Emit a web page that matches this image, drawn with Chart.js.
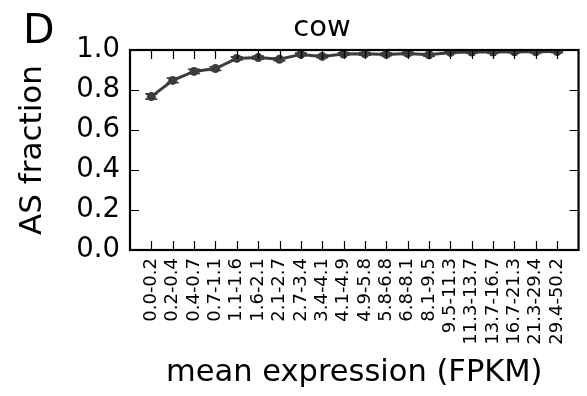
<!DOCTYPE html>
<html>
<head>
<meta charset="utf-8">
<script src="https://cdn.jsdelivr.net/npm/chart.js@4.4.1/dist/chart.umd.min.js"></script>
<style>
  html, body { margin: 0; padding: 0; background: #fff; }
</style>
</head>
<body>
<canvas id="asChart" width="587" height="396"></canvas>
<script>
// expression bins (FPKM) and the alternative-splicing fraction in each
const bins = ["0.0-0.2", "0.2-0.4", "0.4-0.7", "0.7-1.1", "1.1-1.6", "1.6-2.1", "2.1-2.7",
              "2.7-3.4", "3.4-4.1", "4.1-4.9", "4.9-5.8", "5.8-6.8", "6.8-8.1", "8.1-9.5",
              "9.5-11.3", "11.3-13.7", "13.7-16.7", "16.7-21.3", "21.3-29.4", "29.4-50.2"];
const asFraction = [0.767, 0.848, 0.893, 0.907, 0.958, 0.962, 0.954, 0.978, 0.968, 0.980,
                    0.981, 0.978, 0.983, 0.976, 0.988, 0.990, 0.990, 0.991, 0.991, 0.992];
const asError = [0.013, 0.011, 0.010, 0.009, 0.007, 0.007, 0.007, 0.006, 0.006, 0.006,
                 0.006, 0.006, 0.006, 0.006, 0.005, 0.005, 0.005, 0.005, 0.005, 0.005];
const yTicks = [0.0, 0.2, 0.4, 0.6, 0.8, 1.0];

const FONT = "DejaVu Sans";
const INK = "#3c3c3c";

// error bars with caps, clipped to the plot box
const errorBars = {
  id: "errorBars",
  afterDatasetsDraw(chart) {
    const {ctx, chartArea: a, scales: {x, y}} = chart;
    ctx.save();
    ctx.beginPath();
    ctx.rect(a.left, a.top, a.width, a.height);
    ctx.clip();
    ctx.strokeStyle = INK;
    ctx.lineWidth = 1.8;
    ctx.beginPath();
    asFraction.forEach((v, i) => {
      const px = x.getPixelForValue(i);
      const lo = y.getPixelForValue(v - asError[i]);
      const hi = y.getPixelForValue(v + asError[i]);
      ctx.moveTo(px, lo); ctx.lineTo(px, hi);
      ctx.moveTo(px - 6, lo); ctx.lineTo(px + 6, lo);
      ctx.moveTo(px - 6, hi); ctx.lineTo(px + 6, hi);
    });
    ctx.stroke();
    ctx.restore();
  }
};

// box frame with inward ticks on all four sides, plus panel letter and title
const frame = {
  id: "frame",
  afterDraw(chart) {
    const {ctx, chartArea: a, scales: {x, y}} = chart;
    const len = 9;
    ctx.save();
    ctx.strokeStyle = "#000";
    ctx.lineWidth = 1.2;
    ctx.beginPath();
    x.ticks.forEach(t => {
      const px = Math.round(x.getPixelForValue(t.value)) + 0.5;
      ctx.moveTo(px, a.bottom); ctx.lineTo(px, a.bottom - len);
      ctx.moveTo(px, a.top); ctx.lineTo(px, a.top + len);
    });
    y.ticks.forEach(t => {
      const py = Math.round(y.getPixelForValue(t.value)) + 0.5;
      ctx.moveTo(a.left, py); ctx.lineTo(a.left + len, py);
      ctx.moveTo(a.right, py); ctx.lineTo(a.right - len, py);
    });
    ctx.stroke();
    ctx.lineWidth = 2.2;
    ctx.strokeRect(a.left, a.top, a.right - a.left, a.bottom - a.top);

    ctx.fillStyle = "#000";
    ctx.textBaseline = "alphabetic";
    ctx.font = "41px '" + FONT + "'";
    ctx.textAlign = "left";
    ctx.fillText("D", 23, 43);
    ctx.font = "29px '" + FONT + "'";
    ctx.textAlign = "center";
    ctx.fillText("cow", 322, 36);
    ctx.restore();
  }
};

new Chart(document.getElementById("asChart"), {
  type: "line",
  data: {
    datasets: [{
      data: asFraction.map((v, i) => ({x: i, y: v})),
      borderColor: INK,
      backgroundColor: INK,
      borderWidth: 3,
      pointRadius: 4.5,
      pointBorderWidth: 0,
      pointBackgroundColor: INK,
      tension: 0,
      clip: 0
    }]
  },
  options: {
    responsive: false,
    animation: false,
    layout: {padding: {left: 0, right: 4, top: 50, bottom: 0}},
    plugins: {legend: {display: false}, tooltip: {enabled: false}},
    scales: {
      x: {
        type: "linear",
        min: -1,
        max: 20,
        afterBuildTicks: s => { s.ticks = bins.map((_, i) => ({value: i})); },
        afterFit: s => { s.height = 146; },
        grid: {display: false, drawTicks: false},
        border: {display: false},
        ticks: {
          autoSkip: false,
          minRotation: 90,
          maxRotation: 90,
          padding: 8,
          color: "#000",
          font: {family: FONT, size: 18},
          callback: v => bins[v]
        },
        title: {
          display: true,
          text: "mean expression (FPKM)",
          color: "#000",
          font: {family: FONT, size: 30.5},
          padding: {top: 0, bottom: 5}
        }
      },
      y: {
        min: 0,
        max: 1,
        afterBuildTicks: s => { s.ticks = yTicks.map(v => ({value: v})); },
        afterFit: s => { s.width = 130; },
        grid: {display: false, drawTicks: false},
        border: {display: false},
        ticks: {
          padding: 10,
          color: "#000",
          font: {family: FONT, size: 27.5},
          callback: v => v.toFixed(1)
        },
        title: {
          display: true,
          text: "AS fraction",
          color: "#000",
          font: {family: FONT, size: 31},
          padding: {top: 14, bottom: 0}
        }
      }
    }
  },
  plugins: [errorBars, frame]
});
</script>
</body>
</html>
